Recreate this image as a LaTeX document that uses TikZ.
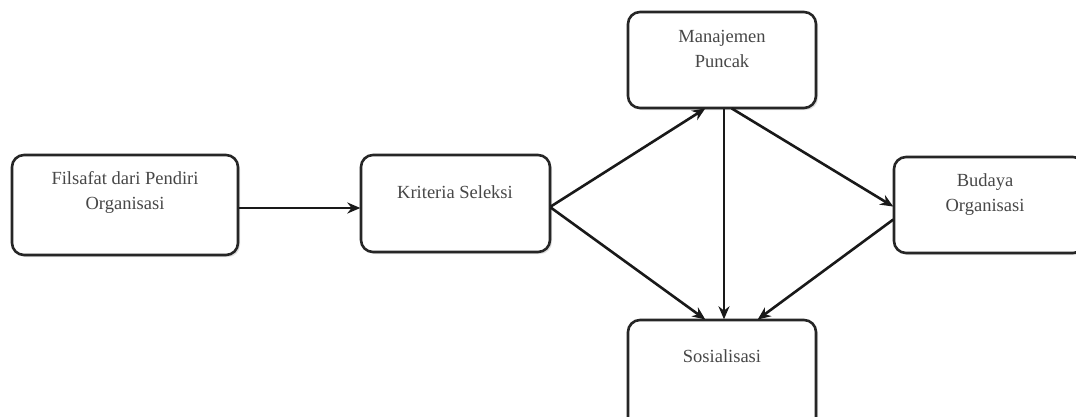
\documentclass[tikz,border=0pt]{standalone}
\usepackage{fontspec}
\setmainfont{Liberation Serif}
\usetikzlibrary{arrows.meta,shadows}
\begin{document}
\begin{tikzpicture}[x=1pt,y=-1pt,
  box/.style={draw=black!85, line width=2.6pt, rounded corners=12pt, fill=white,
    drop shadow={shadow xshift=2pt, shadow yshift=-2pt, opacity=0.25}},
  txt/.style={font=\fontsize{18.5}{25}\selectfont, text=black!72, align=center, anchor=north},
  link/.style={line width=2.6pt, draw=black!90, -{Stealth[length=13pt,width=11pt]}}]
  \useasboundingbox (0,0) rectangle (1076,416);
  % boxes
  \path[box] (12,155) rectangle (238,255);
  \path[box] (361,155) rectangle (550,252);
  \path[box] (628,12) rectangle (816,108);
  \path[box] (894,157) rectangle (1085,253);
  \path[box] (628,320) rectangle (816,430);
  % anchor points on the box borders
  \node[inner sep=0] (fR) at (238,208) {};
  \node[inner sep=0] (kL) at (361,208) {};
  \node[inner sep=0] (kR) at (550,207) {};
  \node[inner sep=0] (mB1) at (706,108) {};
  \node[inner sep=0] (mB2) at (724,108) {};
  \node[inner sep=0] (mB3) at (731,108) {};
  \node[inner sep=0] (bL1) at (894,207) {};
  \node[inner sep=0] (bL2) at (894,219) {};
  \node[inner sep=0] (sT1) at (706,320) {};
  \node[inner sep=0] (sT2) at (724,320) {};
  \node[inner sep=0] (sT3) at (757,320) {};
  % texts
  \node[txt] (tF) at (125,168) {Filsafat dari Pendiri\\Organisasi};
  \node[txt] (tK) at (455,182) {Kriteria Seleksi};
  \node[txt] (tM) at (722,27) {Manajemen\\Puncak};
  \node[txt] (tB) at (985,170) {Budaya\\Organisasi};
  \node[txt] (tS) at (722,346) {Sosialisasi};
  % connectors
  \draw[link] (fR) -- (kL);
  \draw[link] (kR) -- (mB1);
  \draw[link] (kR) -- (sT1);
  \draw[link] (mB2) -- (sT2);
  \draw[link] (mB3) -- (bL1);
  \draw[link] (bL2) -- (sT3);
\end{tikzpicture}
\end{document}
